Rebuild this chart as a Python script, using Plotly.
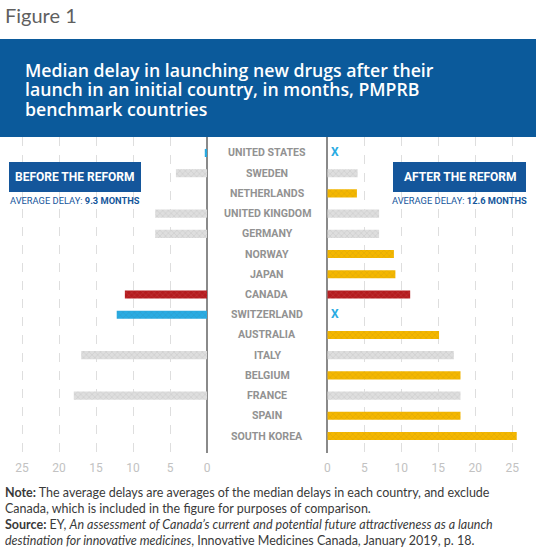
import plotly.graph_objects as go

countries = ["UNITED STATES", "SWEDEN", "NETHERLANDS", "UNITED KINGDOM", "GERMANY",
             "NORWAY", "JAPAN", "CANADA", "SWITZERLAND", "AUSTRALIA", "ITALY",
             "BELGIUM", "FRANCE", "SPAIN", "SOUTH KOREA"]
before = [0.3, 4.2, None, 7.0, 7.0, None, None, 11.1, 12.2, None, 17.0, None, 18.0, None, None]
after = [None, 4.1, 4.0, 7.0, 7.0, 9.0, 9.2, 11.2, None, 15.1, 17.1, 18.0, 18.0, 18.0, 25.6]
# category of each bar: g = unchanged (grey), y = new after reform, c = Canada, b = highlighted
before_kind = ["b", "g", "g", "g", "g", "g", "g", "c", "b", "g", "g", "g", "g", "g", "g"]
after_kind = ["b", "g", "y", "g", "g", "y", "y", "c", "b", "y", "g", "y", "g", "y", "y"]
not_launched_after = ["UNITED STATES", "SWITZERLAND"]
ticks = [0, 5, 10, 15, 20, 25]
avg_before = "9.3 MONTHS"
avg_after = "12.6 MONTHS"

kind_color = {"g": "#dedede", "y": "#f4b700", "c": "#b41b1e", "b": "#29abe2"}

W, H = 536, 549
def px(x):
    return x / W
def py(y):
    return 1 - y / H

PXU = 7.4  # pixels per month
left_zero, right_zero = 207.0, 327.3
left_edge, right_edge = 10.0, 532.0
top, bottom = 137.0, 453.0

fig = go.Figure()

pat = dict(shape="x", fillmode="overlay", fgcolor="white", fgopacity=0.16, size=4, solidity=0.2)

fig.add_trace(go.Bar(
    x=before, y=countries, orientation="h", xaxis="x", yaxis="y",
    marker=dict(color=[kind_color[k] for k in before_kind], line=dict(width=0), pattern=pat),
    width=0.4, hoverinfo="x+y", showlegend=False))
fig.add_trace(go.Bar(
    x=after, y=countries, orientation="h", xaxis="x2", yaxis="y2",
    marker=dict(color=[kind_color[k] for k in after_kind], line=dict(width=0), pattern=pat),
    width=0.4, hoverinfo="x+y", showlegend=False))
fig.add_trace(go.Scatter(
    x=[0.5] * len(not_launched_after), y=not_launched_after, xaxis="x2", yaxis="y2",
    mode="text", text=["X"] * len(not_launched_after), textposition="middle right",
    textfont=dict(family="Roboto", size=12, color="#29abe2", weight="bold"),
    showlegend=False, hoverinfo="skip"))

yrange = [14.84, -0.79]
axis_common = dict(
    tickvals=ticks, showgrid=True, gridcolor="#dedede", griddash="dash", gridwidth=1,
    zeroline=True, zerolinecolor="#8a8a8a", zerolinewidth=1.5,
    ticks="outside", ticklen=4, tickcolor="rgba(0,0,0,0)",
    tickfont=dict(family="Roboto", size=12, color="#c2c2c2"),
    fixedrange=True, anchor="y", automargin=False)
fig.update_layout(
    width=W, height=H, margin=dict(l=0, r=0, t=0, b=0, pad=0), autosize=False,
    paper_bgcolor="white", plot_bgcolor="white", bargap=0.6,
    xaxis=dict(domain=[px(left_edge), px(left_zero)],
               range=[(left_zero - left_edge) / PXU, 0], **axis_common),
    xaxis2=dict(domain=[px(right_zero), px(right_edge)],
                range=[0, (right_edge - right_zero) / PXU],
                **{**axis_common, "anchor": "y2"}),
    yaxis=dict(domain=[py(bottom), py(top)], range=yrange, showticklabels=False,
               showgrid=False, zeroline=False, categoryorder="array", categoryarray=countries,
               fixedrange=True),
    yaxis2=dict(domain=[py(bottom), py(top)], range=yrange, showticklabels=False,
                showgrid=False, zeroline=False, matches="y", anchor="x2",
                categoryorder="array", categoryarray=countries, fixedrange=True),
)

shapes = [
    dict(type="rect", xref="paper", yref="paper", x0=0, x1=1, y0=py(137), y1=py(39),
         fillcolor="#0b5a9b", line=dict(width=0), layer="above"),
    dict(type="rect", xref="paper", yref="paper", x0=px(9), x1=px(141), y0=py(192), y1=py(162),
         fillcolor="#14569b", line=dict(width=0), layer="above"),
    dict(type="rect", xref="paper", yref="paper", x0=px(393), x1=px(526), y0=py(192), y1=py(162),
         fillcolor="#14569b", line=dict(width=0), layer="above"),
]
fig.update_layout(shapes=shapes)

def note(text, x, y, size, color, family, anchor="center", weight="normal", yref="paper"):
    return dict(text=text, x=x, y=y, xref="paper", yref=yref, xanchor=anchor,
                yanchor="middle", showarrow=False,
                font=dict(family=family, size=size, color=color, weight=weight))

ann = []
ann.append(note("Figure 1", px(3), py(15), 20, "#5f5f5f", "Lato", "left"))
title_lines = ["Median delay in launching new drugs after their",
               "launch in an initial country, in months, PMPRB",
               "benchmark countries"]
for i, t in enumerate(title_lines):
    ann.append(note(t, px(23), py(70 + 19.3 * i), 17.7, "white", "Open Sans", "left", 600))
ann.append(note("BEFORE THE REFORM", px(75), py(177), 12, "white", "Roboto", weight="bold"))
ann.append(note("AFTER THE REFORM", px(459.5), py(177), 12, "white", "Roboto", weight="bold"))
ann.append(note("AVERAGE DELAY: <b>" + avg_before + "</b>", px(75), py(200), 9.3, "#14569b", "Roboto"))
ann.append(note("AVERAGE DELAY: <b>" + avg_after + "</b>", px(459.5), py(200), 9.3, "#14569b", "Roboto"))
for c in countries:
    ann.append(note(c, px(267), c, 10.6, "#929292", "Roboto", weight="bold", yref="y"))
notes = ["<b>Note:</b> The average delays are averages of the median delays in each country, and exclude",
         "Canada, which is included in the figure for purposes of comparison.",
         "<b>Source:</b> EY, <i>An assessment of Canada’s current and potential future attractiveness as a launch</i>",
         "<i>destination for innovative medicines</i>, Innovative Medicines Canada, January 2019, p. 18."]
for i, t in enumerate(notes):
    ann.append(note(t, px(3), py(492 + 16 * i), 12.5, "#3a3a3a", "Lato", "left"))
fig.update_layout(annotations=ann)

fig.write_html("out.html", config={"displayModeBar": False},
               post_script="document.body.style.margin='0';"
                           "document.documentElement.style.overflow='hidden';")
